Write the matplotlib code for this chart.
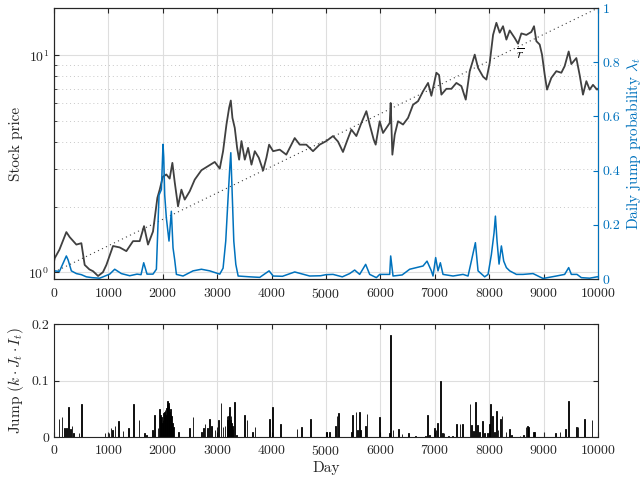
import matplotlib
matplotlib.use('Agg')
import matplotlib.pyplot as plt
from matplotlib.ticker import NullFormatter, FixedLocator, LogLocator

plt.rcParams['font.family'] = 'serif'
plt.rcParams['font.serif'] = ['cmr10']
plt.rcParams['mathtext.fontset'] = 'cm'
plt.rcParams['axes.formatter.use_mathtext'] = True
plt.rcParams['axes.unicode_minus'] = False

# ----- Data -----
price_days = [0, 13, 100, 227, 289, 411, 503, 564, 650, 718, 810, 900, 963, 1085, 1208, 1330,
              1453, 1575, 1655, 1728, 1820, 1900, 1943, 2000, 2065, 2126, 2176, 2219, 2280, 2342,
              2403, 2495, 2587, 2710, 2832, 2955, 3047, 3108, 3170, 3219, 3250, 3280, 3323, 3366,
              3403, 3446, 3507, 3568, 3630, 3691, 3764, 3844, 3905, 3954, 4028, 4149, 4270, 4333,
              4425, 4517, 4638, 4761, 4883, 5006, 5129, 5220, 5312, 5386, 5466, 5558, 5650, 5742,
              5803, 5876, 5913, 5987, 6048, 6110, 6171, 6189, 6220, 6263, 6324, 6416, 6508, 6600,
              6692, 6784, 6876, 6937, 7029, 7078, 7121, 7213, 7305, 7397, 7489, 7569, 7642, 7734,
              7795, 7887, 7948, 8009, 8071, 8132, 8193, 8254, 8316, 8377, 8469, 8530, 8591, 8683,
              8775, 8824, 8867, 8928, 8971, 9020, 9063, 9142, 9234, 9326, 9387, 9461, 9510, 9602,
              9663, 9724, 9786, 9847, 9908, 9982, 10000]
price = [1.12, 1.16, 1.27, 1.53, 1.45, 1.34, 1.36, 1.08, 1.03, 1.01, 0.96, 1.0, 1.08, 1.32, 1.30, 1.25,
         1.39, 1.39, 1.63, 1.34, 1.54, 2.2, 2.40, 2.75, 2.82, 2.70, 3.19, 2.60, 2.01, 2.40,
         2.16, 2.36, 2.67, 2.95, 3.08, 3.22, 3.00, 3.61, 4.79, 5.72, 6.18, 5.14, 4.62, 3.74,
         3.30, 4.02, 3.30, 3.74, 3.13, 3.61, 3.37, 2.94, 3.37, 3.87, 3.61, 3.67, 3.48, 3.74,
         4.15, 3.87, 3.87, 3.61, 3.87, 4.02, 4.24, 4.0, 3.58, 4.02, 4.54, 4.24, 4.87, 5.52,
         4.79, 4.09, 3.87, 4.96, 4.38, 4.62, 4.87, 6.02, 3.48, 4.30, 4.96, 4.79, 5.14, 5.91,
         6.14, 6.82, 7.45, 6.50, 8.30, 8.10, 6.58, 7.00, 7.00, 7.45, 7.20, 6.24, 8.44, 10.06,
         8.74, 7.96, 7.72, 9.20, 12.4, 14.1, 12.7, 13.6, 11.8, 13.0, 12.0, 11.3, 12.6, 12.4,
         12.8, 13.6, 11.6, 11.2, 10.06, 8.14, 6.94, 7.86, 8.44, 8.3, 8.9, 10.4, 9.1, 9.7,
         8.1, 6.58, 7.59, 6.94, 7.3, 6.94, 7.0]

lam_days = [0, 13, 100, 227, 260, 319, 411, 503, 595, 700, 840, 1024, 1116, 1238, 1392, 1526, 1600,
            1649, 1710, 1820, 1882, 1931, 1974, 2004, 2017, 2035, 2065, 2114, 2157, 2188, 2219, 2250,
            2372, 2556, 2710, 2863, 3047, 3108, 3157, 3200, 3231, 3250, 3274, 3305, 3342, 3385, 3600,
            3782, 3954, 4028, 4200, 4425, 4700, 4900, 5000, 5129, 5300, 5435, 5527, 5619, 5729, 5803,
            5926, 5987, 6171, 6189, 6232, 6400, 6538, 6661, 6784, 6857, 6937, 6967, 7016, 7059, 7102,
            7151, 7335, 7519, 7611, 7672, 7746, 7795, 7917, 7979, 8040, 8089, 8114, 8144, 8181, 8224,
            8267, 8316, 8377, 8500, 8622, 8806, 8928, 8990, 9234, 9387, 9461, 9510, 9614, 9694, 9847,
            9982, 10000]
lam = [0.022, 0.03, 0.028, 0.085, 0.07, 0.03, 0.02, 0.016, 0.008, 0.005, 0.003, 0.018, 0.036, 0.02,
       0.012, 0.018, 0.016, 0.06, 0.018, 0.018, 0.036, 0.31, 0.33, 0.497, 0.45, 0.31, 0.226, 0.14,
       0.25, 0.115, 0.07, 0.017, 0.011, 0.03, 0.036, 0.03, 0.018, 0.04, 0.14, 0.30, 0.41, 0.466,
       0.325, 0.14, 0.054, 0.011, 0.008, 0.006, 0.03, 0.011, 0.01, 0.026, 0.011, 0.012, 0.016, 0.017,
       0.008, 0.02, 0.033, 0.017, 0.054, 0.017, 0.005, 0.017, 0.017, 0.085, 0.011, 0.015, 0.036,
       0.042, 0.048, 0.066, 0.03, 0.011, 0.079, 0.03, 0.06, 0.017, 0.011, 0.017, 0.011, 0.066, 0.134,
       0.03, 0.008, 0.017, 0.09, 0.17, 0.232, 0.14, 0.055, 0.122, 0.066, 0.042, 0.03, 0.017, 0.017,
       0.02, 0.008, 0.002, 0.011, 0.017, 0.042, 0.017, 0.017, 0.005, 0.003, 0.008, 0.008]

rbar_days = [0, 10000]
rbar_vals = [1.0, 16.5]

jump_days = [92, 148, 191, 227, 270, 301, 331, 362, 460, 503, 938, 1012, 1048, 1073, 1122, 1183,
             1269, 1367, 1465, 1563, 1661, 1698, 1808, 1845, 1912, 1943, 1955, 1968, 1980, 1992,
             2005, 2017, 2030, 2041, 2055, 2066, 2078, 2090, 2103, 2115, 2127, 2139, 2150, 2164,
             2180, 2200, 2286, 2494, 2556, 2715, 2752, 2776, 2825, 2862, 2899, 2960, 2997, 3021,
             3070, 3107, 3144, 3181, 3190, 3205, 3215, 3230, 3240, 3254, 3265, 3279, 3290, 3316,
             3352, 3499, 3548, 3646, 3695, 3965, 4014, 4161, 4468, 4553, 4713, 5007, 5019, 5061,
             5172, 5203, 5233, 5466, 5491, 5552, 5583, 5613, 5638, 5724, 5754, 5987, 6171, 6189,
             6232, 6336, 6398, 6520, 6642, 6826, 6863, 6900, 6998, 7023, 7047, 7108, 7145, 7170,
             7256, 7329, 7402, 7464, 7513, 7648, 7672, 7709, 7746, 7783, 7820, 7880, 7917, 7966,
             8003, 8028, 8064, 8101, 8138, 8162, 8211, 8236, 8309, 8371, 8407, 8567, 8628, 8677,
             8702, 8726, 8812, 8836, 9216, 9302, 9400, 9461, 9608, 9632, 9755, 9890]
jump_vals = [0.032, 0.036, 0.016, 0.016, 0.053, 0.014, 0.020, 0.007, 0.007, 0.059, 0.008, 0.008,
             0.016, 0.013, 0.020, 0.028, 0.012, 0.016, 0.059, 0.031, 0.007, 0.004, 0.013, 0.040,
             0.016, 0.050, 0.040, 0.031, 0.035, 0.025, 0.030, 0.043, 0.045, 0.049, 0.040, 0.051,
             0.058, 0.064, 0.060, 0.056, 0.045, 0.050, 0.040, 0.037, 0.025, 0.019, 0.010, 0.016,
             0.036, 0.010, 0.016, 0.024, 0.017, 0.033, 0.020, 0.013, 0.019, 0.031, 0.060, 0.019,
             0.020, 0.037, 0.030, 0.037, 0.045, 0.053, 0.030, 0.037, 0.025, 0.020, 0.015, 0.062,
             0.004, 0.040, 0.031, 0.010, 0.019, 0.032, 0.053, 0.024, 0.014, 0.019, 0.033, 0.010,
             0.010, 0.010, 0.020, 0.037, 0.043, 0.010, 0.040, 0.044, 0.013, 0.044, 0.013, 0.020,
             0.041, 0.036, 0.007, 0.180, 0.013, 0.014, 0.006, 0.007, 0.002, 0.002, 0.039, 0.004,
             0.016, 0.013, 0.025, 0.099, 0.008, 0.008, 0.002, 0.002, 0.024, 0.023, 0.024, 0.059,
             0.022, 0.011, 0.062, 0.022, 0.010, 0.028, 0.008, 0.008, 0.024, 0.059, 0.038, 0.010,
             0.047, 0.013, 0.033, 0.037, 0.010, 0.015, 0.004, 0.002, 0.004, 0.019, 0.020, 0.019,
             0.010, 0.010, 0.008, 0.009, 0.015, 0.064, 0.018, 0.018, 0.032, 0.030]

xticks = list(range(0, 10001, 1000))
axcol = '#262626'
blue = '#0072BD'
gridcol = '#dedede'

fig = plt.figure(figsize=(6.43, 4.83), dpi=100)

# ----- Top panel -----
ax = fig.add_axes([54 / 643, 1 - 279 / 483, 544 / 643, 271 / 483])
ax.plot(rbar_days, rbar_vals, linestyle=(0, (1, 3)), color='#404040', linewidth=0.8)
ax.plot(price_days, price, color='#404040', linewidth=1.3)
ax.set_yscale('log')
ax.set_xlim(0, 10000)
ax.set_ylim(0.93, 16.5)
ax.set_xticks(xticks)
ax.yaxis.set_major_locator(FixedLocator([1, 10]))
ax.yaxis.set_minor_locator(LogLocator(base=10, subs=range(2, 10)))
ax.yaxis.set_minor_formatter(NullFormatter())
ax.grid(True, which='major', color=gridcol, linewidth=0.8)
ax.grid(True, which='minor', axis='y', color='#c8c8c8', linestyle=(0, (1, 3)), linewidth=0.7)
ax.set_axisbelow(True)
ax.set_ylabel('Stock price', fontsize=11, color=axcol)
ax.text(8573, 10.06, r'$\overline{r}$', fontsize=10, ha='center', va='center', color='k')
ax.tick_params(direction='in', colors=axcol, labelsize=10, top=True, which='both')
ax.tick_params(axis='x', pad=6)
ax.tick_params(axis='y', right=False, which='both')
for s in ax.spines.values():
    s.set_color(axcol)

ax2 = ax.twinx()
ax2.plot(lam_days, lam, color=blue, linewidth=1.1)
ax2.set_ylim(0, 1)
ax2.set_yticks([0, 0.2, 0.4, 0.6, 0.8, 1])
ax2.set_yticklabels(['0', '0.2', '0.4', '0.6', '0.8', '1'])
ax2.set_ylabel(r'Daily jump probability $\lambda_t$', fontsize=11, color=blue, labelpad=2)
ax2.tick_params(axis='y', direction='in', colors=blue, labelsize=10)
ax2.spines['right'].set_color(blue)
ax2.spines['left'].set_color(axcol)
ax2.spines['top'].set_color(axcol)
ax2.spines['bottom'].set_color(axcol)

# ----- Bottom panel -----
axb = fig.add_axes([54 / 643, 1 - 437.3 / 483, 544 / 643, 113.3 / 483])
axb.bar(jump_days, jump_vals, width=12, color='k', edgecolor='k', linewidth=0.6)
axb.set_xlim(0, 10000)
axb.set_ylim(0, 0.2)
axb.set_xticks(xticks)
axb.set_yticks([0, 0.1, 0.2])
axb.set_yticklabels(['0', '0.1', '0.2'])
axb.grid(True, color=gridcol, linewidth=0.8)
axb.set_axisbelow(True)
axb.set_xlabel('Day', fontsize=11, color=axcol, labelpad=2)
axb.set_ylabel(r'Jump $(k \cdot J_t \cdot I_t)$', fontsize=11, color=axcol)
axb.tick_params(direction='in', colors=axcol, labelsize=10, top=True, right=True)
axb.tick_params(axis='x', pad=5)
for s in axb.spines.values():
    s.set_color(axcol)

fig.savefig('out.png', dpi=100)
